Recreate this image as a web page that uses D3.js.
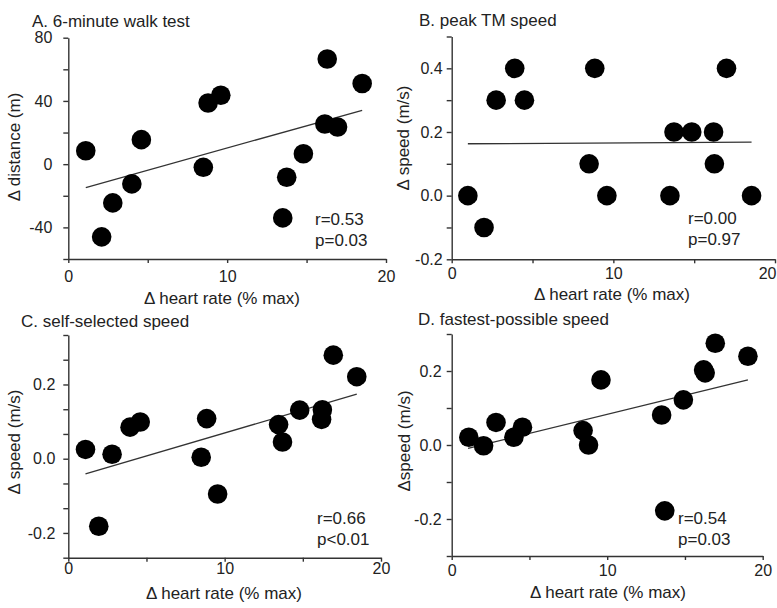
<!DOCTYPE html>
<html>
<head>
<meta charset="utf-8">
<script src="https://cdn.jsdelivr.net/npm/d3@7"></script>
<style>
body { margin:0; background:#fff; }
svg { display:block; font-family:"Liberation Sans", Arial, sans-serif; }
.axis path, .axis line { stroke:#333; stroke-width:1.4; shape-rendering:auto; }
.axis text { fill:#222; font-size:16px; font-family:"Liberation Sans", Arial, sans-serif; }
.title, .label, .stat { fill:#222; font-size:17px; }
.fit { stroke:#333; stroke-width:1.3; fill:none; }
.dot { fill:#000; }
</style>
</head>
<body>
<script>
// data (x = change in heart rate, % max)
var hrA   = [1.1, 2.1, 2.8, 4.0, 4.6, 8.5, 8.8, 9.6, 13.5, 13.75, 14.8, 16.15, 16.3, 16.95, 18.5];
var distA = [8.5, -46, -24.5, -12.5, 15.5, -2, 38.7, 43.6, -34, -8.3, 6.6, 25.4, 66.5, 23.5, 51];

var hrB    = [1.0, 2.0, 2.75, 3.9, 4.5, 8.5, 8.85, 9.6, 13.5, 13.75, 14.85, 16.2, 16.25, 17.0, 18.55];
var speedB = [0.0, -0.1, 0.3, 0.4, 0.3, 0.1, 0.4, 0.0, 0.0, 0.2, 0.2, 0.2, 0.1, 0.4, 0.0];

var hrC    = [1.1, 1.95, 2.8, 3.95, 4.6, 8.5, 8.85, 9.55, 13.45, 13.7, 14.8, 16.25, 16.2, 16.95, 18.45];
var speedC = [0.025, -0.182, 0.012, 0.085, 0.099, 0.004, 0.108, -0.095, 0.092, 0.045, 0.131, 0.132, 0.106, 0.279, 0.221];

var hrD    = [1.1, 2.05, 2.85, 4.0, 4.55, 8.45, 8.8, 9.6, 13.5, 13.7, 14.9, 16.2, 16.3, 16.95, 19.05];
var speedD = [0.021, -0.002, 0.061, 0.021, 0.048, 0.039, 0.0, 0.176, 0.081, -0.178, 0.122, 0.203, 0.195, 0.275, 0.24];

// regression line end points [x, y]
var fitA = [[1.1, -14.8], [18.5, 34.1]];
var fitB = [[1.0, 0.163], [18.55, 0.168]];
var fitC = [[1.1, -0.041], [18.45, 0.174]];
var fitD = [[1.05, -0.009], [19.05, 0.176]];

var statsA = ["r=0.53", "p=0.03"];
var statsB = ["r=0.00", "p=0.97"];
var statsC = ["r=0.66", "p<0.01"];
var statsD = ["r=0.54", "p=0.03"];

var titles  = ["A.  6-minute walk test", "B. peak TM speed", "C. self-selected speed", "D. fastest-possible speed"];
var yTitles = ["\u0394 distance (m)", "\u0394 speed (m/s)", "\u0394 speed (m/s)", "\u0394speed (m/s)"];
var xTitle  = "\u0394 heart rate (% max)";

var xTicks      = [0, 5, 10, 15, 20];
var xTickLabels = [0, 10, 20];
var yTicksA  = [-60, -40, -20, 0, 20, 40, 60, 80];
var yLabelsA = [-40, 0, 40, 80];
var yTicksB  = [-0.2, -0.1, 0, 0.1, 0.2, 0.3, 0.4, 0.5];
var yLabelsB = [-0.2, 0, 0.2, 0.4];
var yTicksC  = [-0.2667, -0.2, -0.1333, -0.0667, 0, 0.0667, 0.1333, 0.2, 0.2667, 0.3333];
var yLabelsC = [-0.2, 0, 0.2];
var yTicksD  = [-0.3, -0.2, -0.1, 0, 0.1, 0.2, 0.3];
var yLabelsD = [-0.2, 0, 0.2];

var width = 777,
    height = 608;

// panel layout (pixels)
var panels = [
    {x:hrA, y:distA, fit:fitA, stats:statsA, yTicks:yTicksA, yLabels:yLabelsA, dec:0,
     left:68.3, right:386, top:37.7, bottom:259, yMin:-60, yMax:80,
     titleX:32, titleY:26.5, yTitleX:20, yTitleY:147, xTitleX:222, xTitleY:304,
     statX:315, statY:225, xPad:8, yPad:11},
    {x:hrB, y:speedB, fit:fitB, stats:statsB, yTicks:yTicksB, yLabels:yLabelsB, dec:1,
     left:451.7, right:775, top:36.5, bottom:259.3, yMin:-0.2, yMax:0.5,
     titleX:419, titleY:26, yTitleX:409, yTitleY:138, xTitleX:612, xTitleY:300,
     statX:688, statY:224, xPad:4, yPad:4},
    {x:hrC, y:speedC, fit:fitC, stats:statsC, yTicks:yTicksC, yLabels:yLabelsC, dec:1,
     left:68.3, right:381, top:335, bottom:557.7, yMin:-0.2667, yMax:0.3333,
     titleX:21, titleY:327, yTitleX:20, yTitleY:442, xTitleX:224, xTitleY:599,
     statX:317, statY:524, xPad:1, yPad:8},
    {x:hrD, y:speedD, fit:fitD, stats:statsD, yTicks:yTicksD, yLabels:yLabelsD, dec:1,
     left:451.7, right:762.7, top:334, bottom:556, yMin:-0.3, yMax:0.3,
     titleX:418, titleY:325, yTitleX:410, yTitleY:441, xTitleX:608, xTitleY:598,
     statX:678, statY:524, xPad:5, yPad:5}
];

var svg = d3.select("body").append("svg")
    .attr("width", width)
    .attr("height", height);

function hasLabel(list, v){
    return list.some(function(l){return Math.abs(l - v) < 1e-3;});
}

panels.forEach(function(p, i){
    var x = d3.scaleLinear().domain([0, 20]).range([p.left, p.right]);
    var y = d3.scaleLinear().domain([p.yMin, p.yMax]).range([p.bottom, p.top]);
    var g = svg.append("g").attr("class", "panel");

    var xAxis = g.append("g")
	.attr("class", "axis")
	.attr("transform", "translate(0," + p.bottom + ")")
	.call(d3.axisBottom(x).tickValues(xTicks).tickSize(4).tickSizeOuter(0).tickPadding(p.xPad)
	      .tickFormat(function(d){return hasLabel(xTickLabels, d) ? String(d) : "";}));

    // keep the last label inside the picture when the axis runs to the edge
    if(p.right + 10 > width){
	xAxis.selectAll(".tick text")
	    .filter(function(d){return d == 20;})
	    .attr("text-anchor", "end")
	    .attr("x", width - p.right - 1);
    }

    g.append("g")
	.attr("class", "axis")
	.attr("transform", "translate(" + p.left + ",0)")
	.call(d3.axisLeft(y).tickValues(p.yTicks).tickSize(5).tickSizeOuter(0).tickPadding(p.yPad)
	      .tickFormat(function(d){return hasLabel(p.yLabels, d) ? d.toFixed(p.dec) : "";}));

    g.selectAll(".axis text").attr("fill", "#222");

    var line = d3.line().x(function(d){return x(d[0]);}).y(function(d){return y(d[1]);});
    g.append("path")
	.attr("class", "fit")
	.attr("d", line(p.fit));

    g.selectAll(".dot")
	.data(p.x).enter()
	.append("circle")
	.attr("class", "dot")
	.attr("cx", function(d){return x(d);})
	.attr("cy", function(d, j){return y(p.y[j]);})
	.attr("r", 9.8);

    g.append("text")
	.attr("class", "title")
	.attr("x", p.titleX)
	.attr("y", p.titleY)
	.text(titles[i]);

    g.append("text")
	.attr("class", "label")
	.attr("text-anchor", "middle")
	.attr("transform", "translate(" + p.yTitleX + "," + p.yTitleY + ") rotate(-90)")
	.text(yTitles[i]);

    g.append("text")
	.attr("class", "label")
	.attr("text-anchor", "middle")
	.attr("x", p.xTitleX)
	.attr("y", p.xTitleY)
	.text(xTitle);

    g.selectAll(".stat")
	.data(p.stats).enter()
	.append("text")
	.attr("class", "stat")
	.attr("x", p.statX)
	.attr("y", function(d, j){return p.statY + j*20.5;})
	.text(function(d){return d;});
});
</script>
</body>
</html>
